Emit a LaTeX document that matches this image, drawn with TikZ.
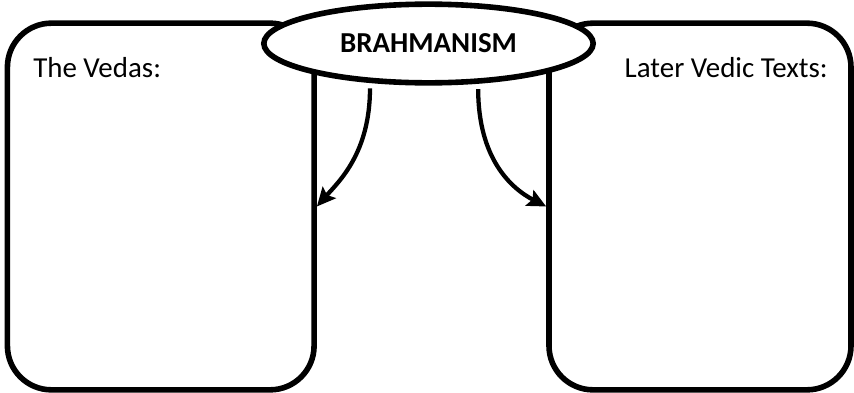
\documentclass[tikz,border=0pt]{standalone}
\usepackage{fontspec}
\setmainfont{Carlito}
\usetikzlibrary{shapes.geometric,arrows.meta}
\begin{document}
\begin{tikzpicture}[x=0.75pt,y=-0.75pt,
  panel/.style={draw=black,line width=4.2pt,rounded corners=33pt,fill=white,inner sep=0pt},
  topic/.style={ellipse,draw=black,line width=4.2pt,fill=white,inner sep=0pt,
    minimum width=247pt,minimum height=59pt,font=\fontsize{21.7}{26}\selectfont\bfseries},
  label/.style={inner sep=0pt,font=\fontsize{21.7}{26}\selectfont},
  arr/.style={line width=3.2pt,-{Stealth[length=14pt,width=13pt,inset=2.5pt]}}]
\useasboundingbox (0,0) rectangle (854,393);
\node[panel,minimum width=230pt,minimum height=275pt] (lbox) at (160.75,206.5) {};
\node[panel,minimum width=226.5pt,minimum height=275pt] (rbox) at (700,206.5) {};
\node[label,anchor=base west] (ltxt) at (33,77) {The Vedas:};
\node[label,anchor=base east] (rtxt) at (828,77) {Later Vedic Texts:};
\node[topic] (ell) at (428.5,43.5) {BRAHMANISM};
\draw[arr,shorten <=4pt] (ell.214) .. controls +(0,70) and +(22,-25) .. (lbox.east);
\draw[arr,shorten <=4pt] (ell.321) .. controls +(0,75) and +(-35,-18) .. (rbox.west);
\end{tikzpicture}
\end{document}
